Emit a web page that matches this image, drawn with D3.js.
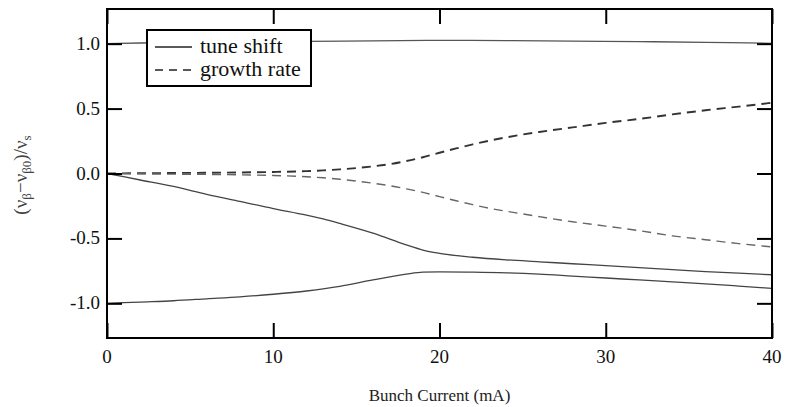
<!DOCTYPE html>
<html>
<head>
<meta charset="utf-8">
<script src="https://cdn.jsdelivr.net/npm/d3@7"></script>
<style>
  html, body { margin: 0; padding: 0; background: #fff; }
  svg { display: block; }
  text { font-family: 'Liberation Serif', 'DejaVu Serif', serif; }
</style>
</head>
<body>
<svg id="chart" width="790" height="407"></svg>
<script>
// ---- data ----
const xTicks = [0, 10, 20, 30, 40];
const yTicks = [1.0, 0.5, 0.0, -0.5, -1.0];
const xTickLabels = ["0", "10", "20", "30", "40"];
const yTickLabels = ["1.0", "0.5", "0.0", "-0.5", "-1.0"];

const tuneTopX = [0, 2, 6, 12, 16, 20, 24, 28, 32, 36, 40];
const tuneTopY = [1.0, 1.005, 1.012, 1.018, 1.022, 1.025, 1.024, 1.02, 1.016, 1.01, 1.003];

const tuneUpperX = [0, 2, 4, 6, 8, 10, 12, 13, 14, 16, 18, 19, 20, 22, 24, 26, 28, 30, 32, 34, 36, 38, 40];
const tuneUpperY = [0, -0.05, -0.1, -0.16, -0.215, -0.27, -0.32, -0.35, -0.385, -0.46, -0.55, -0.59, -0.615, -0.645, -0.665, -0.68, -0.695, -0.71, -0.725, -0.74, -0.755, -0.768, -0.78];

const tuneLowerX = [0, 2, 4, 6, 8, 10, 12, 14, 16, 18, 19, 20, 22, 24, 26, 28, 30, 32, 34, 36, 38, 40];
const tuneLowerY = [-1.0, -0.99, -0.98, -0.965, -0.95, -0.93, -0.905, -0.87, -0.82, -0.775, -0.76, -0.758, -0.76, -0.765, -0.775, -0.79, -0.805, -0.82, -0.835, -0.85, -0.867, -0.885];

const growthUpperX = [0, 4, 8, 10, 12, 13, 14, 15, 16, 17, 18, 19, 20, 21, 22, 23, 24, 26, 28, 30, 32, 34, 36, 38, 40];
const growthUpperY = [0, 0.004, 0.008, 0.012, 0.018, 0.024, 0.032, 0.042, 0.055, 0.072, 0.096, 0.125, 0.16, 0.193, 0.224, 0.253, 0.278, 0.32, 0.355, 0.39, 0.42, 0.455, 0.487, 0.515, 0.545];

const growthLowerX = [0, 4, 8, 10, 12, 13, 14, 15, 16, 17, 18, 19, 20, 21, 22, 23, 24, 26, 28, 30, 32, 34, 36, 38, 40];
const growthLowerY = [0, -0.005, -0.01, -0.015, -0.025, -0.033, -0.044, -0.058, -0.075, -0.094, -0.118, -0.145, -0.178, -0.21, -0.24, -0.268, -0.29, -0.332, -0.372, -0.405, -0.44, -0.48, -0.51, -0.54, -0.565];

const legendLabels = ["tune shift", "growth rate"];

// ---- layout ----
const FONT = "'Liberation Serif', 'DejaVu Serif', serif";
const svg = d3.select("#chart");
const L = 107, R = 772, T = 9, B = 338;
const x = d3.scaleLinear().domain([0, 40]).range([L, R]);
const y = d3.scaleLinear().domain([-1.267, 1.267]).range([B, T]);

const zip = (xs, ys) => xs.map((v, i) => [v, ys[i]]);
const line = d3.line().x(d => x(d[0])).y(d => y(d[1])).curve(d3.curveMonotoneX);

const series = [
  { data: zip(tuneTopX, tuneTopY), color: "#555", width: 1.3, dash: null },
  { data: zip(tuneUpperX, tuneUpperY), color: "#444", width: 1.3, dash: null },
  { data: zip(tuneLowerX, tuneLowerY), color: "#444", width: 1.3, dash: null },
  { data: zip(growthUpperX, growthUpperY), color: "#333", width: 1.9, dash: "9,6" },
  { data: zip(growthLowerX, growthLowerY), color: "#666", width: 1.4, dash: "9,6" }
];

const plot = svg.append("g");
series.forEach(s => {
  plot.append("path")
    .attr("d", line(s.data))
    .attr("fill", "none")
    .attr("stroke", s.color)
    .attr("stroke-width", s.width)
    .attr("stroke-dasharray", s.dash);
});

// ---- axes (ticks inward on all four sides) ----
const tickLen = 15;
const axStyle = g => { g.select(".domain").remove(); g.selectAll("line").attr("stroke", "#000").attr("stroke-width", 2); g.selectAll("text").remove(); };
svg.append("g").attr("transform", `translate(0,${B})`).call(d3.axisBottom(x).tickValues(xTicks).tickSizeInner(-tickLen).tickSizeOuter(0)).call(axStyle);
svg.append("g").attr("transform", `translate(0,${T})`).call(d3.axisTop(x).tickValues(xTicks).tickSizeInner(-tickLen).tickSizeOuter(0)).call(axStyle);
svg.append("g").attr("transform", `translate(${L},0)`).call(d3.axisLeft(y).tickValues(yTicks).tickSizeInner(-tickLen).tickSizeOuter(0)).call(axStyle);
svg.append("g").attr("transform", `translate(${R},0)`).call(d3.axisRight(y).tickValues(yTicks).tickSizeInner(-tickLen).tickSizeOuter(0)).call(axStyle);

// frame
svg.append("rect").attr("x", L).attr("y", T).attr("width", R - L).attr("height", B - T)
  .attr("fill", "none").attr("stroke", "#000").attr("stroke-width", 2);

// tick labels
svg.append("g").selectAll("text").data(xTicks).join("text")
  .attr("x", d => x(d)).attr("y", 363).attr("text-anchor", "middle")
  .attr("font-family", FONT).attr("font-size", 19).attr("fill", "#111")
  .text((d, i) => xTickLabels[i]);
svg.append("g").selectAll("text").data(yTicks).join("text")
  .attr("x", 100).attr("y", d => y(d) + 6).attr("text-anchor", "end")
  .attr("font-family", FONT).attr("font-size", 19).attr("fill", "#111")
  .text((d, i) => yTickLabels[i]);

// axis titles
svg.append("text").attr("x", (L + R) / 2).attr("y", 401).attr("text-anchor", "middle")
  .attr("font-family", FONT).attr("font-size", 17).attr("fill", "#222").text("Bunch Current (mA)");

const yl = svg.append("text").attr("transform", "translate(27,175) rotate(-90)")
  .attr("font-family", FONT).attr("text-anchor", "middle").attr("font-size", 19).attr("fill", "#444");
yl.append("tspan").text("(ν");
yl.append("tspan").attr("font-size", 13).attr("dy", 4).text("β");
yl.append("tspan").attr("dy", -4).text("−ν");
yl.append("tspan").attr("font-size", 13).attr("dy", 4).text("β0");
yl.append("tspan").attr("dy", -4).text(")/ν");
yl.append("tspan").attr("font-size", 13).attr("dy", 4).text("s");

// legend
const lg = svg.append("g");
lg.append("rect").attr("x", 147).attr("y", 30).attr("width", 164).attr("height", 56)
  .attr("fill", "#fff").attr("stroke", "#000").attr("stroke-width", 2);
const legDash = [null, "8,6"];
legendLabels.forEach((lab, i) => {
  const yy = 47 + i * 23;
  lg.append("line").attr("x1", 155).attr("x2", 192).attr("y1", yy).attr("y2", yy)
    .attr("stroke", "#222").attr("stroke-width", 1.3).attr("stroke-dasharray", legDash[i]);
  lg.append("text").attr("x", 200).attr("y", yy + 6).attr("font-family", FONT)
    .attr("font-size", 22).attr("fill", "#111").text(lab);
});
</script>
</body>
</html>
